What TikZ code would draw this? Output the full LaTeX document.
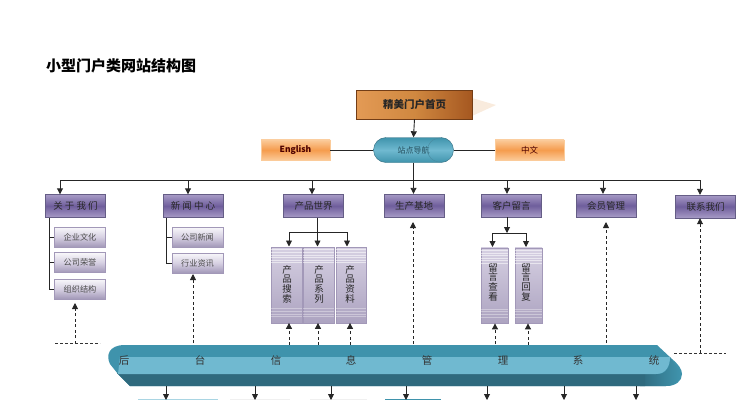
\documentclass[tikz,border=0pt]{standalone}
\usepackage{fontspec}
\setmainfont{Noto Sans CJK SC}
\usetikzlibrary{arrows.meta,calc}
\definecolor{pur}{HTML}{6F5E9C}
\definecolor{purd}{HTML}{3E3468}
\definecolor{purl}{HTML}{A79BC6}
\definecolor{lil}{HTML}{D6D0E2}
\definecolor{lild}{HTML}{A298B8}
\definecolor{org}{HTML}{F59C4E}
\definecolor{orgl}{HTML}{FBCB9A}
\definecolor{homea}{HTML}{E39A55}
\definecolor{homeb}{HTML}{D08840}
\definecolor{homec}{HTML}{A55720}
\definecolor{teala}{HTML}{3F93AC}
\definecolor{tealb}{HTML}{70B9D0}
\definecolor{tealc}{HTML}{2F6A7E}
\tikzset{x=1pt,y=-1pt,
 purbox/.style={draw=purd!80,line width=.4pt,minimum width=60pt,minimum height=23pt,inner sep=0pt,
   top color=purl,bottom color=purl,middle color=pur,font=\fontsize{9.5}{9.5}\selectfont,text=black!85},
 lilbox/.style={draw=lild,line width=.4pt,minimum width=51pt,minimum height=20pt,inner sep=0pt,
   top color=white!85!lil,bottom color=lild,middle color=lil,font=\fontsize{8.2}{8.2}\selectfont,text=black!70},
 colbox/.style={draw=lild,line width=.4pt,inner sep=0pt,anchor=north west,minimum height=75.5pt,
   top color=lil,bottom color=lild!80!lil},
 coltext/.style={inner sep=0pt,align=center,font=\fontsize{9.5}{9.7}\selectfont,text=black!85},
 orgbox/.style={draw=orgl,line width=.3pt,minimum width=69pt,minimum height=20.5pt,inner sep=0pt,
   top color=orgl,bottom color=orgl,middle color=org,font=\fontsize{8.5}{8.5}\selectfont,text=black!70!red},
 conn/.style={draw=black!85,line width=.9pt},
 arr/.style={conn,-{Triangle[length=6pt,width=6pt]}},
 darr/.style={draw=black!85,line width=.9pt,dash pattern=on 3pt off 2.5pt,-{Triangle[length=6pt,width=6pt]}},
 edgedash/.style={draw=black!80,line width=.5pt,dash pattern=on 3pt off 2pt},
 bartext/.style={font=\fontsize{10.5}{10.5}\selectfont,text=black!80,inner sep=0pt,anchor=base},
}
\begin{document}
\begin{tikzpicture}
\useasboundingbox (0,0) rectangle (737,400);
\clip (0,0) rectangle (737,400);
\node[anchor=west,inner sep=0pt,font=\fontsize{15}{15}\selectfont\bfseries] (title) at (46,66) {小型门户类网站结构图};
% home
\fill[homea!20] (472,98) -- (496,105) -- (472,116) -- cycle;
\node[draw=homec!70!black,line width=.5pt,minimum width=116pt,minimum height=29pt,inner sep=0pt,left color=homea,right color=homec,middle color=homeb,font=\fontsize{10.5}{10.5}\selectfont\bfseries,text=black!85] (home) at (414.5,104.5) {精美门户首页};
% nav
\node[draw=tealc,line width=.4pt,rounded corners=12.5pt,minimum width=80pt,minimum height=25pt,inner sep=0pt,top color=teala,bottom color=teala,middle color=tealb,font=\fontsize{8}{8}\selectfont,text=tealc!70!black] (nav) at (413.5,150) {站点导航};
\draw[tealc!60!tealb,line width=.4pt] (441,138) .. controls (423,138) and (423,162) .. (441,162);
\node[orgbox,font=\fontsize{8.5}{8.5}\selectfont\bfseries] (en) at (295.5,150) {English};
\node[orgbox] (cn) at (529.5,150) {中文};
\draw[conn,line width=.6pt] (en.east) -- (nav.west);
\draw[conn,line width=.6pt] (nav.east) -- (cn.west);
\draw[arr] (home.south) -- (nav.north);
% purple
\foreach \nm/\cx/\cy/\tx in {a1/75.5/206/关 于 我 们,a2/193/206/新 闻 中 心,a3/313.5/206/产品世界,a4/414/205.5/生产基地,a5/511.5/205.5/客户留言,a6/606/205.5/会员管理,a7/705.5/206.5/联系我们}{
 \fill[purd] (\cx-29,\cy-10) rectangle (\cx+30.7,\cy+12.3);
 \node[purbox] (\nm) at (\cx,\cy) {\tx};
}
\coordinate (p1) at (60,180);
\coordinate (p2) at (188,180);
\coordinate (p3) at (312,180);
\coordinate (p5) at (507,180);
\coordinate (p6) at (603,180);
\coordinate (p7) at (700,180);
\draw[conn] (p1) -- (p7);
\draw[arr] (nav.south) -- (nav.south |- a4.north);
\foreach \p/\n in {p1/a1,p2/a2,p3/a3,p5/a5,p6/a6,p7/a7}{\draw[arr] (\p) -- (\p |- \n.north);}
% lilac
\node[lilbox] (b1) at (80,237) {企业文化};
\node[lilbox] (b2) at (80,262.5) {公司荣誉};
\node[lilbox] (b3) at (80,289) {组织结构};
\node[lilbox] (c1) at (197.5,237) {公司新闻};
\node[lilbox] (c2) at (197.5,263) {行业资讯};
\coordinate (t1) at (49,218);
\coordinate (t2) at (166,218);
\draw[conn,line width=.6pt] (t1) |- (b1.west);
\draw[conn,line width=.6pt] (t1) |- (b2.west);
\draw[conn,line width=.6pt] (t1) |- (b3.west);
\draw[conn,line width=.6pt] (t2) |- (c1.west);
\draw[conn,line width=.6pt] (t2) |- (c2.west);
% columns
\node[colbox,minimum width=31pt] (d1) at (271,247) {};
\node[colbox,minimum width=31pt] (d2) at (303,247) {};
\node[colbox,minimum width=30pt] (d3) at (336,247) {};
\node[colbox,minimum width=27pt] (e1) at (481,247.5) {};
\node[colbox,minimum width=27pt] (e2) at (515,247.5) {};
\foreach \n in {d1,d2,d3,e1,e2}{
 \foreach \k in {1,...,6}{\draw[white,line width=.35pt,opacity=.55] ($(\n.north west)+(0,2.6*\k)$) -- ($(\n.north east)+(0,2.6*\k)$);}
 \foreach \k in {1,...,4}{\draw[white,line width=.35pt,opacity=.35] ($(\n.south west)+(0,-2.6*\k-4)$) -- ($(\n.south east)+(0,-2.6*\k-4)$);}
}
\node[coltext] (dt1) at (287,284) {产\\品\\搜\\索};
\node[coltext] (dt2) at (319,284) {产\\品\\系\\列};
\node[coltext] (dt3) at (350,284) {产\\品\\资\\料};
\node[coltext] (et1) at (493,282) {留\\言\\查\\看};
\node[coltext] (et2) at (526,282) {留\\言\\回\\复};
\coordinate (f3) at (317.5,232);
\coordinate (f5) at (507,233);
\coordinate (f3a) at (289,246.5);
\coordinate (f3b) at (317.5,246.5);
\coordinate (f3c) at (347,246.5);
\coordinate (f5a) at (492.5,247);
\coordinate (f5b) at (526,247);
\draw[arr] (a3.south -| f3) -- (f3b);
\draw[arr] (f3) -| (f3a);
\draw[arr] (f3) -| (f3c);
\draw[arr] (a5.south -| f5) -- (f5);
\draw[arr] (f5) -| (f5a);
\draw[arr] (f5) -| (f5b);
% bar
\fill[teala] (125,345) -- (657,345) -- (672,359) .. controls (678,364) and (682,369) .. (682,374) .. controls (682,381) and (676,386) .. (666,386) -- (130,386) -- (118,374) -- (110,364) .. controls (106,356) and (108,345) .. (125,345) -- cycle;
\shade[left color=tealc,right color=teala] (640,374) -- (660,374) .. controls (668,372) and (670,366) .. (670,357) -- (680,372) .. controls (680,381) and (675,386) .. (666,386) -- (640,386) -- cycle;
\fill[tealc] (117,373) -- (130,386) -- (645,386) -- (645,374) -- cycle;
\fill[tealb] (120,357) -- (670,357) .. controls (670,366) and (666,374) .. (656,374) -- (118,374) -- cycle;
\node[bartext] (g1) at (124,364) {后};
\node[bartext] (g2) at (200,364) {台};
\node[bartext] (g3) at (276,364) {信};
\node[bartext] (g4) at (351,364) {息};
\node[bartext] (g5) at (427,364) {管};
\node[bartext] (g6) at (503,364) {理};
\node[bartext] (g7) at (578,364) {系};
\node[bartext] (g8) at (654,364) {统};
% dashed up
\coordinate (u1) at (55,343.5);
\coordinate (u2) at (100,343.5);
\coordinate (v1) at (674,353);
\coordinate (v2) at (726,353);
\coordinate (s1) at (75,343.5);
\coordinate (s2) at (193,343);
\coordinate (s3) at (289,345);
\coordinate (s4) at (318,345);
\coordinate (s5) at (350,345);
\coordinate (s6) at (413,344);
\coordinate (s7) at (495,344);
\coordinate (s8) at (528,345);
\coordinate (s9) at (606,343);
\coordinate (s10) at (700,353);
\draw[darr] (s1) -- (75,303);
\draw[darr] (s2) -- (193,274);
\draw[darr] (s3) -- (s3 |- d1.south);
\draw[darr] (s4) -- (s4 |- d2.south);
\draw[darr] (s5) -- (s5 |- d3.south);
\draw[darr] (s6) -- (413,222);
\draw[darr] (s7) -- (s7 |- e1.south);
\draw[darr] (s8) -- (s8 |- e2.south);
\draw[darr] (s9) -- (606,222);
\draw[darr] (s10) -- (s10 |- a7.south);
\draw[edgedash] (u1) -- (u2);
\draw[edgedash] (v1) -- (v2);
% boxes cut off at the lower edge
\fill[tealb!60] (138,398.7) rectangle (218,400);
\fill[black!6] (230,398.7) rectangle (290,400);
\fill[black!6] (310,398.7) rectangle (367,400);
\fill[teala] (385,398.7) rectangle (441,400);
% below bar
\coordinate (h1) at (166,386);
\coordinate (h2) at (255,386);
\coordinate (h3) at (331,386);
\coordinate (h4) at (406,386);
\coordinate (h5) at (487,386);
\coordinate (h6) at (564,386);
\coordinate (h7) at (636,386);
\foreach \n in {h1,h2,h3,h4,h5,h6,h7}{\draw[arr] (\n) -- ++(0,14);}
\end{tikzpicture}
\end{document}
